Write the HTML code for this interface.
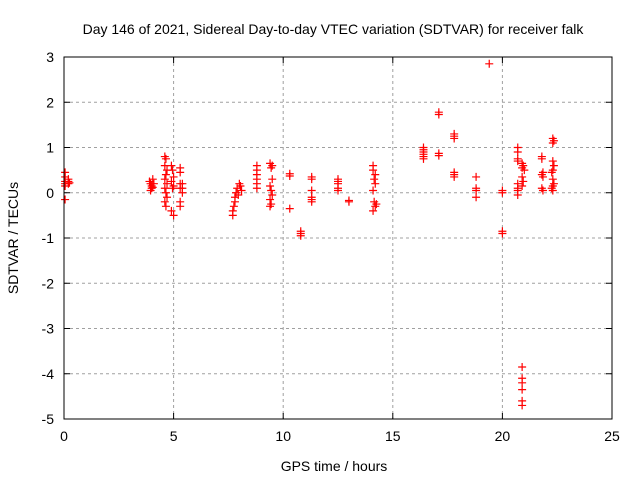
<!DOCTYPE html>
<html><head><meta charset="utf-8"><style>body{margin:0;background:#fff}svg{display:block;font-family:"Liberation Sans",sans-serif}</style></head>
<body>
<svg id="c" width="640" height="480">
<text x="333" y="34" text-anchor="middle" font-size="14">Day 146 of 2021, Sidereal Day-to-day VTEC variation (SDTVAR) for receiver falk</text>
<text x="334" y="471" text-anchor="middle" font-size="14">GPS time / hours</text>
<text transform="translate(18,238) rotate(-90)" text-anchor="middle" font-size="14">SDTVAR / TECUs</text>
<g id="grid"></g><g id="ticks"></g><g id="marks"></g>
<rect x="64" y="57" width="548" height="362" fill="none" stroke="#000" stroke-width="1"/>
</svg>
<script>
const xTicks=[0,5,10,15,20,25];
const yTicks=[3,2,1,0,-1,-2,-3,-4,-5];
const hours=[0.05,0.05,0.05,0.05,0.05,0.05,0.2,0.2,0.2,0.25,
3.9,3.95,4.0,4.0,4.05,4.1,3.95,4.05,
4.6,4.65,4.6,4.7,4.65,4.6,4.7,4.6,4.65,4.7,4.6,4.65,
4.9,4.95,5.0,4.9,5.0,4.95,4.9,5.0,
5.3,5.3,5.3,5.3,5.3,5.3,5.4,5.4,5.4,
7.7,7.7,7.75,7.8,7.8,7.85,7.9,8.0,8.05,8.1,7.95,
8.8,8.8,8.8,8.8,8.8,8.8,
9.4,9.5,9.45,9.5,9.4,9.45,9.5,9.4,9.45,9.4,
10.3,10.3,10.3,10.8,10.8,10.8,
11.3,11.3,11.3,11.3,11.3,11.3,
12.5,12.5,12.5,12.5,12.5,13.0,13.0,
14.1,14.1,14.2,14.15,14.2,14.1,14.15,14.2,14.1,14.25,
16.4,16.4,16.4,16.4,16.4,16.4,17.1,17.1,17.1,17.1,
17.8,17.8,17.8,17.8,17.8,17.8,18.8,18.8,18.8,18.8,19.4,
20.0,20.0,20.0,20.0,
20.7,20.7,20.7,20.7,20.7,20.7,20.7,20.7,
20.9,20.95,20.9,21.0,20.9,20.95,20.9,20.9,20.9,20.9,20.9,20.9,20.9,
21.8,21.8,21.85,21.8,21.85,21.8,21.85,
22.3,22.35,22.3,22.3,22.35,22.3,22.25,22.3,22.35,22.3,22.25,22.3];
const values=[0.45,0.35,0.25,0.2,0.15,-0.15,0.3,0.25,0.2,0.22,
0.25,0.2,0.15,0.1,0.3,0.2,0.05,0.12,
0.8,0.75,0.6,0.5,0.4,0.3,0.2,0.1,0,-0.1,-0.2,-0.3,
0.6,0.5,0.35,0.25,0.15,0.1,-0.4,-0.5,
0.55,0.45,0.2,0.1,-0.2,-0.3,0.2,0.1,0.0,
-0.5,-0.4,-0.3,-0.2,-0.1,0,0.1,0.2,0.15,0.05,-0.05,
0.6,0.5,0.4,0.3,0.2,0.1,
0.65,0.6,0.55,0.3,0.15,0.05,-0.05,-0.15,-0.25,-0.3,
0.42,0.37,-0.35,-0.85,-0.9,-0.95,
0.35,0.3,0.05,-0.1,-0.15,-0.2,
0.3,0.25,0.2,0.1,0.05,-0.17,-0.2,
0.6,0.5,0.4,0.3,0.2,0.05,-0.2,-0.3,-0.4,-0.25,
1.0,0.95,0.9,0.85,0.8,0.75,1.78,1.73,0.87,0.82,
1.3,1.25,1.2,0.45,0.4,0.35,0.35,0.1,0.05,-0.1,2.85,
0.05,0.0,-0.85,-0.9,
1.0,0.9,0.75,0.7,0.2,0.1,0.05,-0.05,
0.65,0.6,0.55,0.5,0.35,0.25,0.15,-3.85,-4.1,-4.2,-4.35,-4.6,-4.7,
0.8,0.75,0.45,0.4,0.35,0.1,0.05,
1.2,1.15,1.1,0.7,0.6,0.5,0.45,0.3,0.2,0.15,0.1,0.05];
const X0=64,X1=612,Y0=419,Y1=57;
const sx=h=>X0+(h-0)/25*(X1-X0);
const sy=v=>Y0-(v+5)/8*(Y0-Y1);
const NS="http://www.w3.org/2000/svg";
function mk(tag,attrs,parent){const e=document.createElementNS(NS,tag);for(const k in attrs)e.setAttribute(k,attrs[k]);parent.appendChild(e);return e;}
const grid=document.getElementById('grid'),ticks=document.getElementById('ticks'),marks=document.getElementById('marks');
xTicks.forEach(t=>{const x=sx(t);
 if(t>0&&t<25){const g=mk('line',{x1:x,x2:x,y1:Y1,y2:Y0,stroke:'#a0a0a0','stroke-dasharray':'3,3'},grid);
 
 }
 mk('line',{x1:x,x2:x,y1:Y0,y2:Y0-6,stroke:'#000'},ticks);
 mk('line',{x1:x,x2:x,y1:Y1,y2:Y1+6,stroke:'#000'},ticks);
 const l=mk('text',{x:x,y:Y0+22,'text-anchor':'middle','font-size':14},ticks);l.textContent=t;
 
 });
yTicks.forEach(t=>{const y=sy(t);
 if(t>-5&&t<3){const g=mk('line',{x1:X0,x2:X1,y1:y,y2:y,stroke:'#a0a0a0','stroke-dasharray':'3,3'},grid);
 
 }
 mk('line',{x1:X0,x2:X0+6,y1:y,y2:y,stroke:'#000'},ticks);
 mk('line',{x1:X1,x2:X1-6,y1:y,y2:y,stroke:'#000'},ticks);
 const l=mk('text',{x:X0-10,y:y+5,'text-anchor':'end','font-size':14},ticks);l.textContent=t;
 
 });
hours.forEach((h,i)=>{const x=sx(h),y=sy(values[i]);
 const p=mk('path',{d:`M${x-4},${y}H${x+4}M${x},${y-4}V${y+4}`,stroke:'#ff0000','stroke-width':1.2,fill:'none'},marks);
 
 });
</script>
</body></html>
